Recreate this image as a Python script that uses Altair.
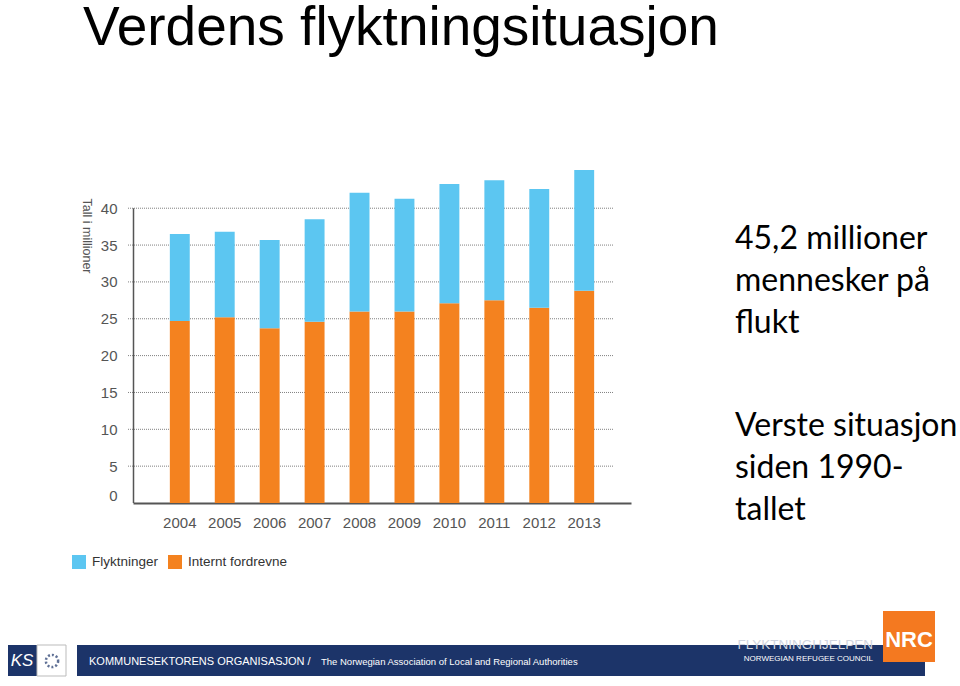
import altair as alt
import pandas as pd

# ---- data ----
years = ["2004", "2005", "2006", "2007", "2008", "2009", "2010", "2011", "2012", "2013"]
internt_fordrevne = [24.7, 25.2, 23.7, 24.6, 26.0, 26.0, 27.1, 27.5, 26.5, 28.8]
flyktninger = [11.8, 11.6, 12.0, 13.9, 16.1, 15.3, 16.2, 16.3, 16.1, 16.4]
series_names = ["Flyktninger", "Internt fordrevne"]
series_colors = ["#5cc6f1", "#f4821f"]
y_ticks = [0, 5, 10, 15, 20, 25, 30, 35, 40]
grid_vals = [5, 10, 15, 20, 25, 30, 35, 40]

title_text = "Verdens flyktningsituasjon"
side_text_1 = "45,2 millioner\nmennesker på\nflukt"
side_text_2 = "Verste situasjon\nsiden 1990-\ntallet"

rows = []
for yr, idp, ref in zip(years, internt_fordrevne, flyktninger):
    rows.append({"year": yr, "serie": "Internt fordrevne", "value": idp, "ord": 0})
    rows.append({"year": yr, "serie": "Flyktninger", "value": ref, "ord": 1})
df = pd.DataFrame(rows)

PLOT_W, PLOT_H = 498, 339
LEFT, TOP = 133, 164

yscale = alt.Scale(domain=[0, 46], nice=False)
one = alt.Data(values=[{}])

yaxis = alt.Axis(
    values=y_ticks, domain=False, ticks=False, grid=False,
    labelFont="Liberation Sans", labelFontSize=15, labelColor="#555555",
    labelPadding=16,
    labelBaseline={"condition": {"test": "datum.value === 0", "value": "bottom"}, "value": "middle"},
    title="Tall i millioner", titleAngle=90, titleX=-47, titleY=34,
    titleAlign="left", titleBaseline="middle",
    titleFont="Liberation Sans", titleFontSize=12.5, titleFontWeight="normal",
    titleColor="#555555",
)

grid = alt.Chart(pd.DataFrame({"v": grid_vals})).mark_rule(
    color="#808080", strokeWidth=1, strokeDash=[1, 1]
).encode(
    y=alt.Y("v:Q", scale=yscale, axis=yaxis),
    x=alt.value(-5),
    x2=alt.value(480),
)

bars = alt.Chart(df).mark_bar().encode(
    x=alt.X(
        "year:N",
        sort=years,
        scale=alt.Scale(paddingInner=0.557, paddingOuter=0.82),
        axis=alt.Axis(
            title=None, labelAngle=0, ticks=False, grid=False,
            domainColor="#555555", domainWidth=2,
            labelFont="Liberation Sans", labelFontSize=15, labelColor="#555555",
            labelPadding=12,
        ),
    ),
    y=alt.Y("value:Q", stack="zero", scale=yscale, axis=yaxis),
    color=alt.Color(
        "serie:N",
        scale=alt.Scale(domain=series_names, range=series_colors),
        legend=alt.Legend(
            title=None, orient="none", legendX=-61, legendY=391,
            direction="horizontal", symbolType="square", symbolSize=196,
            symbolStrokeWidth=0, symbolOpacity=1,
            labelFont="Liberation Sans", labelFontSize=13.5, labelColor="#333333",
            labelOffset=6, columnPadding=9, padding=0,
        ),
    ),
    order=alt.Order("ord:Q"),
)

yaxis_line = alt.Chart(one).mark_rule(color="#555555", strokeWidth=1.5).encode(
    x=alt.value(0.5),
    y=alt.datum(0, scale=yscale, axis=yaxis),
    y2=alt.datum(40),
)

title = alt.Chart(one).mark_text(
    text=title_text, font="Liberation Sans", fontSize=55, align="left",
    baseline="alphabetic", color="#000000",
).encode(x=alt.value(83 - LEFT), y=alt.value(45 - TOP))

side1 = alt.Chart(one).mark_text(
    font="Lato", fontSize=32, align="left", baseline="alphabetic",
    lineBreak="\n", lineHeight=42, color="#000000",
).encode(text=alt.value(side_text_1), x=alt.value(735 - LEFT), y=alt.value(249 - TOP))

side2 = alt.Chart(one).mark_text(
    font="Lato", fontSize=32, align="left", baseline="alphabetic",
    lineBreak="\n", lineHeight=42, color="#000000",
).encode(text=alt.value(side_text_2), x=alt.value(735 - LEFT), y=alt.value(436 - TOP))

# ---- footer decorations ----
navy = "#1c3469"
band = alt.Chart(one).mark_rect(color=navy).encode(
    x=alt.value(77 - LEFT), x2=alt.value(925 - LEFT),
    y=alt.value(645 - TOP), y2=alt.value(676 - TOP),
)
ks_left = alt.Chart(one).mark_rect(color=navy).encode(
    x=alt.value(8 - LEFT), x2=alt.value(37 - LEFT),
    y=alt.value(645 - TOP), y2=alt.value(676 - TOP),
)
ks_right = alt.Chart(one).mark_rect(color="#ffffff", stroke="#bbbbbb", strokeWidth=1).encode(
    x=alt.value(37 - LEFT), x2=alt.value(66 - LEFT),
    y=alt.value(645 - TOP), y2=alt.value(676 - TOP),
)
ks_text = alt.Chart(one).mark_text(
    text="KS", font="Liberation Sans", fontSize=17, fontStyle="italic",
    color="#ffffff", align="center", baseline="middle",
).encode(x=alt.value(22 - LEFT), y=alt.value(661 - TOP))
ks_ring = alt.Chart(one).mark_point(
    shape="circle", size=150, stroke=navy, strokeWidth=2.5, strokeDash=[2, 2], filled=False,
).encode(x=alt.value(52 - LEFT), y=alt.value(661 - TOP))
foot_t1 = alt.Chart(one).mark_text(
    text="KOMMUNESEKTORENS ORGANISASJON /", font="Liberation Sans", fontSize=11,
    color="#ffffff", align="left", baseline="middle",
).encode(x=alt.value(89 - LEFT), y=alt.value(662 - TOP))
foot_t2 = alt.Chart(one).mark_text(
    text="The Norwegian Association of Local and Regional Authorities",
    font="Liberation Sans", fontSize=9.5, color="#ffffff", align="left", baseline="middle",
).encode(x=alt.value(321 - LEFT), y=alt.value(662 - TOP))
nrc_box = alt.Chart(one).mark_rect(color="#f47920").encode(
    x=alt.value(883 - LEFT), x2=alt.value(935 - LEFT),
    y=alt.value(611 - TOP), y2=alt.value(662 - TOP),
)
nrc_text = alt.Chart(one).mark_text(
    text="NRC", font="Liberation Sans", fontSize=22, fontWeight="bold",
    color="#ffffff", align="center", baseline="middle",
).encode(x=alt.value(909 - LEFT), y=alt.value(640 - TOP))
nrc_t1 = alt.Chart(one).mark_text(
    text="FLYKTNINGHJELPEN", font="Liberation Sans", fontSize=13.5,
    color="#d0d4de", align="right", baseline="middle",
).encode(x=alt.value(873 - LEFT), y=alt.value(645 - TOP))
nrc_t2 = alt.Chart(one).mark_text(
    text="NORWEGIAN REFUGEE COUNCIL", font="Liberation Sans", fontSize=8,
    color="#ffffff", align="right", baseline="middle",
).encode(x=alt.value(873 - LEFT), y=alt.value(659 - TOP))

chart = alt.layer(
    grid, bars, yaxis_line, title, side1, side2,
    band, ks_left, ks_right, ks_text, ks_ring, foot_t1, foot_t2,
    nrc_box, nrc_text, nrc_t1, nrc_t2,
).properties(
    width=PLOT_W, height=PLOT_H,
    autosize=alt.AutoSizeParams(type="none"),
    padding={"left": LEFT, "top": TOP, "right": 960 - LEFT - PLOT_W, "bottom": 686 - TOP - PLOT_H},
    background="#ffffff",
).configure_view(stroke=None).resolve_scale(y="shared")

chart.save("out.html", embed_options={"renderer": "svg", "actions": False})
